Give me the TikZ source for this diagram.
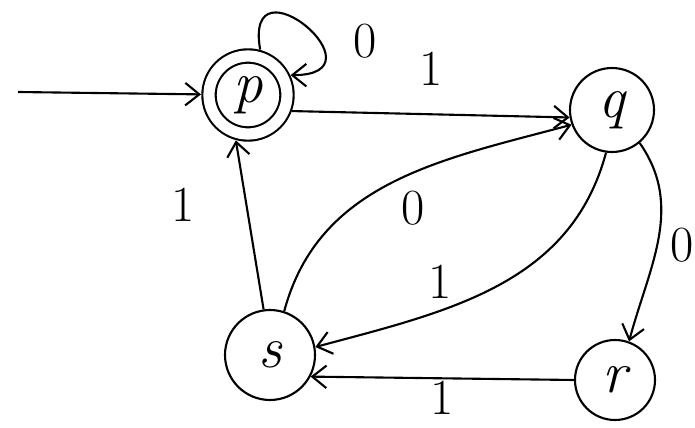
\documentclass[tikz,border=0pt]{standalone}
\usepackage{amsmath,amssymb}
\usetikzlibrary{positioning,arrows.meta}

\tikzset{
    state/.style={draw, circle, line width=1.5pt, minimum size=2.1cm, inner sep=0pt,
        font=\fontsize{42}{44}\selectfont\itshape},
    accept/.style={state, double, double distance=0.28cm, minimum size=1.95cm, outer sep=0.2cm},
    lbl/.style={font=\fontsize{36}{38}\selectfont, inner sep=0pt}
}

\begin{document}
\begin{tikzpicture}[>={Straight Barb[length=10pt,width=16pt]}, line width=1.5pt]

    \useasboundingbox (0,0) rectangle (17.375,10.675);

    % States
    \node[accept] (p) at (6.2,8.3) {p};
    \node[state] (q) at (15.3,7.925) {q};
    \node[state, minimum size=2.0cm] (r) at (15.375,1.175) {r};
    \node[state, minimum size=2.25cm] (s) at (6.75,1.8) {s};

    % Start arrow
    \coordinate (start) at (0.45,8.375);
    \draw[->] (start) -- (p);

    % Transitions
    \draw[->] (p.75) to[out=100,in=0,looseness=6.3] (p.25);
    \node[lbl] (l0) at (9.125,9.65) {0};

    \draw[->] (p.-20) -- (q.190) node[lbl, midway, above=20pt] (l1) {1};

    \draw[->] (s.72) to[out=75,in=195] node[lbl, pos=0.5, below right=8pt] (l2) {0} (q.200);
    \draw[->] (q.262) to[out=255,in=15] node[lbl, pos=0.62, above left=5pt] (l3) {1} (s.10);

    \draw[->] (q.-50) to[out=-55,in=75] (r.70);
    \node[lbl] (l4) at (17.05,4.55) {0};

    \draw[->] (r.180) -- (s.-28) node[lbl, midway, below=1pt] (l5) {1};

    \draw[->] (s.98) -- (p.255) node[lbl, pos=0.62, left=36pt] (l6) {1};

\end{tikzpicture}
\end{document}
